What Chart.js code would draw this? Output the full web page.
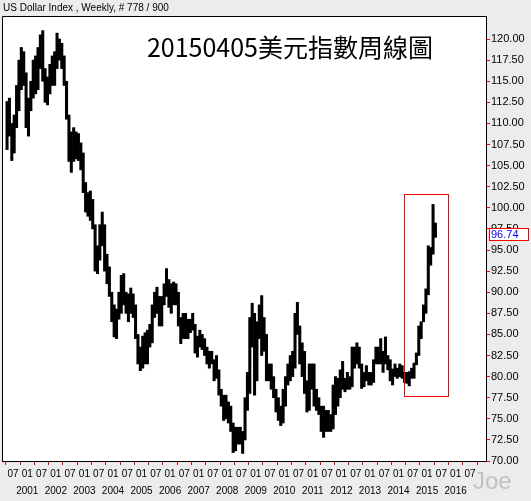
<!DOCTYPE html>
<html>
<head>
<meta charset="utf-8">
<script src="https://cdn.jsdelivr.net/npm/chart.js@4.4.0/dist/chart.umd.min.js"></script>
<style>
    html, body { margin: 0; padding: 0; background: #ececec; }
    #wrap { position: relative; width: 531px; height: 501px; }
</style>
</head>
<body>
<div id="wrap"><canvas id="dxyChart" width="531" height="501"></canvas></div>
<script>
// 월별 고가/저가 (2000년 4월 ~ 2015년 4월)
const startYear = 2000;
const startMonth = 4;

const lows = [
    106.9, 108.5, 105.6, 106.5, 109.5, 111.5, 114.0, 114.5, 109.5,               // 2000
    108.5, 111.5, 113.0, 113.5, 114.0, 116.5, 115.0, 112.5, 112.2, 113.5, 114.5, 114.5, // 2001
    116.5, 117.5, 116.5, 114.5, 110.5, 105.5, 104.2, 105.5, 105.8, 105.6, 104.5, 101.8, // 2002
    99.5, 99.0, 98.5, 97.5, 92.5, 92.2, 93.8, 95.5, 92.5, 91.0, 89.5, 86.5,       // 2003
    84.7, 84.5, 86.8, 87.5, 88.5, 87.5, 86.5, 87.5, 87.0, 84.5, 81.5, 80.7,       // 2004
    81.0, 81.5, 81.5, 83.5, 84.0, 87.0, 87.5, 86.0, 86.0, 88.5, 89.5, 88.2,       // 2005
    87.5, 88.5, 88.5, 86.0, 83.9, 84.5, 84.5, 84.5, 85.2, 85.5, 82.8, 82.3,       // 2006
    83.5, 83.2, 82.5, 81.5, 81.0, 81.5, 79.5, 79.8, 77.8, 76.5, 74.8, 75.0,       // 2007
    74.5, 73.5, 71.0, 71.2, 72.0, 72.0, 70.9, 72.5, 76.0, 78.0, 83.5, 77.8,       // 2008
    79.5, 84.5, 82.5, 83.0, 79.5, 79.5, 78.5, 77.5, 75.8, 74.8, 74.2, 74.5,       // 2009
    76.5, 79.0, 79.5, 80.0, 81.0, 85.0, 81.5, 80.0, 78.0, 75.8, 76.0, 78.5,       // 2010
    76.5, 76.0, 75.5, 73.5, 72.8, 73.5, 73.5, 73.5, 73.8, 75.5, 76.5, 77.5,       // 2011
    78.5, 78.2, 78.5, 78.5, 78.8, 81.0, 81.5, 81.0, 78.6, 78.8, 79.5, 79.0,       // 2012
    79.0, 79.3, 81.5, 81.5, 81.5, 80.5, 81.5, 80.8, 79.5, 79.0, 80.0, 79.8,       // 2013
    80.0, 79.8, 79.3, 79.2, 78.9, 79.8, 79.8, 81.4, 82.5, 84.5, 86.5, 87.5,       // 2014
    89.7, 93.2, 94.5, 96.5                                                         // 2015
];

const highs = [
    112.6, 113.0, 110.0, 111.0, 114.5, 117.5, 119.0, 118.5, 116.0,               // 2000
    113.0, 115.0, 117.5, 118.0, 119.0, 120.5, 121.0, 116.5, 115.5, 117.0, 118.0, 118.5, // 2001
    120.7, 120.0, 119.5, 118.0, 115.0, 111.0, 109.0, 109.5, 109.0, 108.8, 107.7, 106.5, // 2002
    103.0, 101.8, 102.0, 101.0, 98.0, 95.5, 98.0, 99.5, 98.0, 94.5, 93.0, 90.0,  // 2003
    88.5, 88.0, 90.0, 92.0, 92.2, 90.0, 89.8, 90.5, 89.8, 88.5, 85.0, 83.5,       // 2004
    84.8, 85.2, 85.5, 86.2, 88.5, 90.0, 90.6, 89.5, 89.5, 91.0, 92.8, 91.5,       // 2005
    91.0, 91.2, 91.0, 90.0, 87.0, 87.5, 87.5, 86.8, 86.8, 87.5, 86.2, 84.8,       // 2006
    85.5, 85.0, 84.5, 83.5, 83.0, 83.0, 82.0, 82.5, 80.8, 78.5, 77.8, 77.8,       // 2007
    77.0, 76.5, 74.5, 74.0, 74.0, 74.0, 73.5, 77.5, 80.5, 87.0, 88.7, 87.5,       // 2008
    86.5, 88.5, 89.6, 87.0, 85.0, 81.5, 81.5, 80.0, 78.5, 77.5, 76.5, 78.5,       // 2009
    80.0, 81.5, 82.5, 83.0, 87.5, 88.8, 86.0, 84.0, 83.0, 79.5, 81.5, 81.5,       // 2010
    81.5, 78.5, 77.5, 76.5, 76.5, 76.0, 76.0, 75.5, 79.0, 80.0, 79.8, 80.8,       // 2011
    81.8, 79.8, 80.5, 80.0, 83.5, 83.5, 84.0, 83.5, 81.5, 80.5, 81.3, 80.5,       // 2012
    80.5, 82.0, 83.5, 83.5, 84.5, 83.0, 84.7, 82.5, 82.0, 80.9, 81.5, 81.0,       // 2013
    81.5, 81.3, 80.5, 80.5, 80.6, 81.0, 81.6, 82.8, 86.0, 86.5, 88.5, 90.4,       // 2014
    95.5, 95.3, 100.4, 98.2                                                        // 2015
];

const lastClose = 96.74;
const titleText = '20150405美元指數周線圖';
const headerText = 'US Dollar Index , Weekly, # 778 / 900';

// 강조 박스 (연도, 지수)
const boxYears = [2014.19, 2015.73];
const boxValues = [77.65, 101.61];

// 축 범위
const xMin = 2000.115;
const xMax = 2017.062;
const yMin = 70;
const yMax = 122.73;

// 막대 데이터 생성 (월 중간 위치)
const points = lows.map((lo, i) => ({
    x: startYear + (startMonth - 1 + i) / 12 + 1 / 24,
    y: [lo, highs[i]]
}));

const framePlugin = {
    id: 'frame',
    beforeDraw(chart) {
        const { ctx, chartArea: a } = chart;
        ctx.save();
        ctx.fillStyle = '#ffffff';
        ctx.fillRect(a.left, a.top, a.right - a.left, a.bottom - a.top);
        ctx.restore();
    },
    afterDraw(chart) {
        const { ctx, chartArea: a, scales } = chart;
        const xs = scales.x, ys = scales.y;
        ctx.save();

        // 테두리
        ctx.strokeStyle = '#000';
        ctx.lineWidth = 1;
        ctx.beginPath();
        ctx.moveTo(a.left + 0.5, a.bottom);
        ctx.lineTo(a.left + 0.5, a.top + 0.5);
        ctx.lineTo(a.right, a.top + 0.5);
        ctx.stroke();

        // 빨간 강조 박스
        const bx1 = xs.getPixelForValue(boxYears[0]);
        const bx2 = xs.getPixelForValue(boxYears[1]);
        const by1 = ys.getPixelForValue(boxValues[1]);
        const by2 = ys.getPixelForValue(boxValues[0]);
        ctx.strokeStyle = '#ff0000';
        ctx.strokeRect(Math.round(bx1) + 0.5, Math.round(by1) + 0.5, Math.round(bx2 - bx1), Math.round(by2 - by1));

        // 제목
        ctx.fillStyle = '#000';
        ctx.font = '25px "Noto Sans CJK TC"';
        ctx.textAlign = 'center';
        ctx.textBaseline = 'middle';
        ctx.fillText(titleText, 290, 47);

        // 헤더
        ctx.font = '10px "Liberation Sans"';
        ctx.textAlign = 'left';
        ctx.fillText(headerText, 3, 8);

        // 종가 라벨
        const yc = Math.round(ys.getPixelForValue(lastClose));
        ctx.fillStyle = '#ffffff';
        ctx.fillRect(a.right + 3, yc - 6, 39, 12);
        ctx.strokeStyle = '#ff0000';
        ctx.strokeRect(a.right + 3.5, yc - 6.5, 39, 12);
        ctx.fillStyle = '#0000ff';
        ctx.font = '11px "Liberation Sans"';
        ctx.fillText(lastClose.toFixed(2), a.right + 5, yc);

        // 워터마크
        ctx.fillStyle = '#c2c2c2';
        ctx.font = '24px "Liberation Sans"';
        ctx.fillText('Joe', 473, 482);
        ctx.restore();
    }
};

const ctx = document.getElementById('dxyChart').getContext('2d');
window.dxyChart = new Chart(ctx, {
    type: 'bar',
    data: {
        datasets: [{
            data: points,
            backgroundColor: '#000000',
            borderWidth: 0,
            barPercentage: 1,
            categoryPercentage: 1
        }]
    },
    options: {
        responsive: false,
        animation: false,
        devicePixelRatio: 1,
        layout: { padding: { top: 16, left: 2, right: 0, bottom: 0 } },
        plugins: {
            legend: { display: false },
            tooltip: { enabled: false }
        },
        scales: {
            x: {
                type: 'linear',
                min: xMin,
                max: xMax,
                offset: false,
                border: { display: true, color: '#000' },
                grid: { drawOnChartArea: false, color: '#ff0000', tickLength: 4 },
                ticks: {
                    stepSize: 0.5,
                    includeBounds: false,
                    autoSkip: false,
                    maxRotation: 0,
                    padding: 1,
                    color: '#000',
                    font: { family: 'Liberation Sans', size: 10, lineHeight: 1.7 },
                    callback: (v) => {
                        if (v > 2016.6) return null;
                        const yr = Math.round(v);
                        if (Math.abs(v - yr) < 1e-6) return ['01', String(yr)];
                        return '07';
                    }
                },
                afterFit: (s) => { s.height = 40; }
            },
            y: {
                position: 'right',
                min: yMin,
                max: yMax,
                border: { display: true, color: '#000' },
                grid: { drawOnChartArea: false, color: '#ff0000', tickLength: 4 },
                ticks: {
                    stepSize: 2.5,
                    includeBounds: false,
                    padding: 1,
                    color: '#000',
                    font: { family: 'Liberation Sans', size: 11 },
                    callback: (v) => (v > 121 ? null : v.toFixed(2))
                },
                afterFit: (s) => { s.width = 45; }
            }
        }
    },
    plugins: [framePlugin]
});
</script>
</body>
</html>
